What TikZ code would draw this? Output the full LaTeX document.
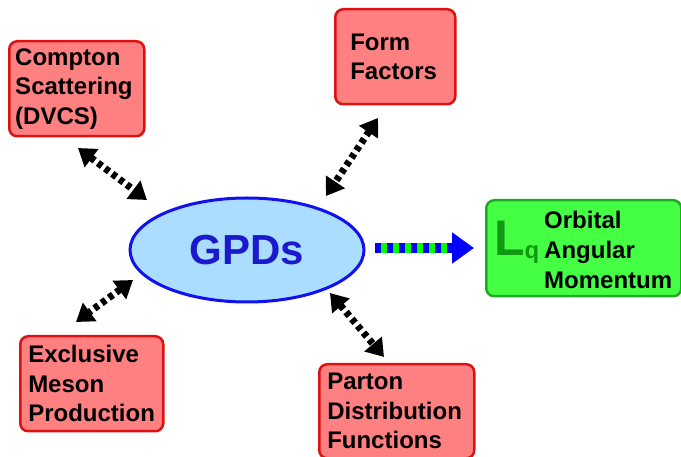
\documentclass[tikz,border=0pt]{standalone}
\usepackage{fontspec}
\setmainfont{Liberation Sans}
\usepackage{tikz}
\usetikzlibrary{arrows.meta, shapes.geometric}

\definecolor{boxred}{HTML}{FF8080}
\definecolor{edgered}{HTML}{DD1111}
\definecolor{boxgreen}{HTML}{44FF44}
\definecolor{edgegreen}{HTML}{22AA22}
\definecolor{lqgreen}{HTML}{119911}
\definecolor{ellblue}{HTML}{AADDFF}
\definecolor{edgeblue}{HTML}{1111EE}
\definecolor{gpdblue}{HTML}{1A1ACC}

\begin{document}
\begin{tikzpicture}[x=1pt, y=-1pt,
        font=\bfseries\fontsize{24}{29.5}\selectfont,
        redbox/.style={draw=edgered, fill=boxred, line width=2.5pt, rounded corners=8pt,
            anchor=north west, align=left, inner ysep=0pt},
        link/.style={line width=7pt, dash pattern=on 5pt off 4pt,
            {Triangle[length=17pt,width=22pt]}-{Triangle[length=17pt,width=22pt]}}]
        \useasboundingbox (0,0) rectangle (681,457);

        \node (gpds) [draw=edgeblue, fill=ellblue, ellipse, line width=3pt,
            minimum width=234pt, minimum height=104pt, text=gpdblue,
            font=\bfseries\fontsize{42}{42}\selectfont] at (247,250) {GPDs};

        \node (compton) [redbox, minimum width=135pt, minimum height=95pt, inner xsep=6pt,
            text width=123pt] at (8,40) {Compton\\Scattering\\(DVCS)};
        \node (form) [redbox, minimum width=120pt, minimum height=95pt, inner xsep=15pt,
            text width=90pt] at (334,8) {Form\\Factors};
        \node (meson) [redbox, minimum width=143pt, minimum height=95pt, inner xsep=8pt,
            text width=127pt] at (19,335) {Exclusive\\Meson\\Production};
        \node (parton) [redbox, minimum width=155pt, minimum height=94pt, inner xsep=8pt,
            text width=139pt] at (318,363) {Parton\\Distribution\\Functions};

        \node (orbital) [draw=edgegreen, fill=boxgreen, line width=2.5pt, rounded corners=8pt,
            anchor=north west, minimum width=195pt, minimum height=96pt] at (485,199) {};
        \node (lq) [anchor=west, inner sep=0pt, text=lqgreen] at (494,242)
            {\fontsize{50}{50}\selectfont L\raisebox{-3pt}{\fontsize{24}{24}\selectfont q}};
        \node (oam) [anchor=west, align=left, inner sep=0pt,
            font=\bfseries\fontsize{24}{30}\selectfont] at (544,250) {Orbital\\Angular\\Momentum};

        \coordinate (c1) at (78,148);  \coordinate (c2) at (147,200);
        \coordinate (f1) at (378,118); \coordinate (f2) at (326,196);
        \coordinate (m1) at (133,280); \coordinate (m2) at (76,322);
        \coordinate (p1) at (330,293); \coordinate (p2) at (384,357);
        \coordinate (o1) at (375,248); \coordinate (o2) at (474,248);

        \draw[link] (c1) -- (c2);
        \draw[link] (f1) -- (f2);
        \draw[link] (m1) -- (m2);
        \draw[link] (p1) -- (p2);

        % striped arrow to the green box
        \draw[line width=10pt, green] (o1) -- (452,248);
        \draw[line width=10pt, blue, dash pattern=on 6pt off 6pt] (o1) -- (452,248);
        \draw[line width=10pt, blue, -{Triangle[length=22pt,width=30pt]}] (450,248) -- (o2);
    \end{tikzpicture}
\end{document}
